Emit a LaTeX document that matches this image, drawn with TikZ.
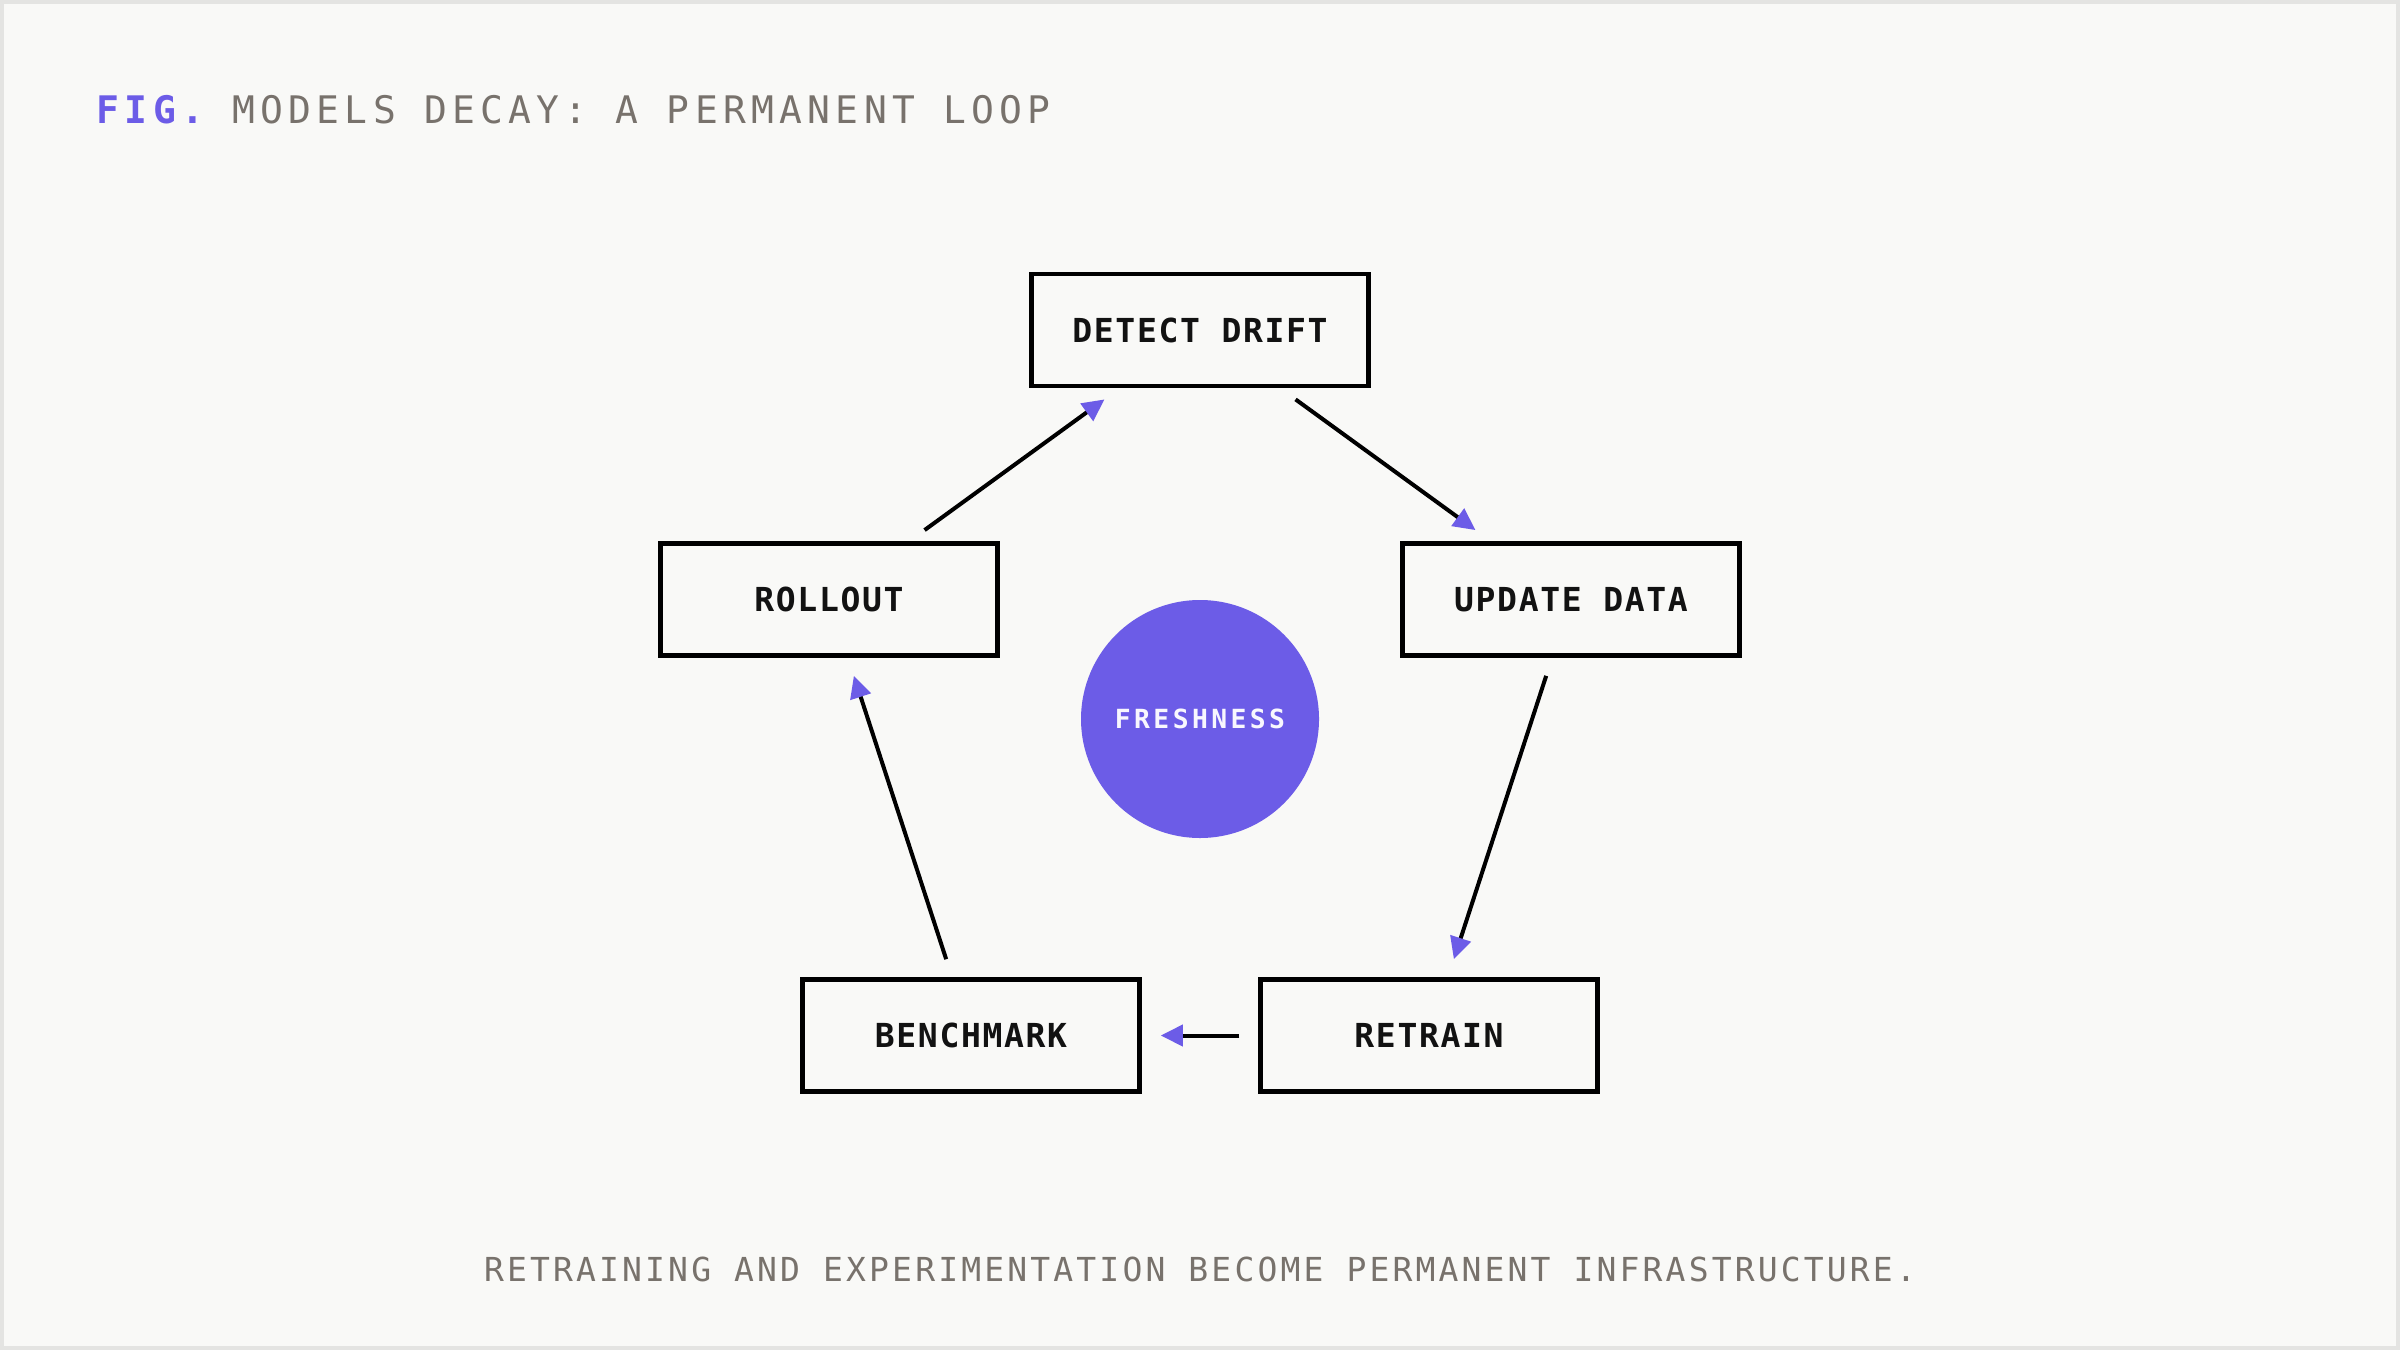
\documentclass[tikz,border=0pt]{standalone}
\usepackage{fontspec}
\usepackage{xcolor}
\usepackage{tikz}
\usetikzlibrary{arrows.meta}
\newfontfamily\titlemono[LetterSpace=14]{DejaVu Sans Mono}
\newfontfamily\stepmono[LetterSpace=5]{DejaVu Sans Mono}
\newfontfamily\notemono[LetterSpace=9.5]{DejaVu Sans Mono}
\newfontfamily\hubmono[LetterSpace=13]{DejaVu Sans Mono}
\definecolor{loopviolet}{RGB}{108,92,231}
\definecolor{loopgray}{RGB}{120,114,108}
\definecolor{loopbg}{RGB}{249,249,247}
\definecolor{loopframe}{RGB}{228,228,226}

\begin{document}
\begin{tikzpicture}[
  stage/.style={draw=black, line width=0.045cm, fill=loopbg, minimum width=3.37cm,
                minimum height=1.12cm, inner sep=0pt,
                font=\stepmono\fontsize{9.4}{11}\selectfont\bfseries, text=black!93},
  hub/.style={circle, fill=loopviolet, minimum size=2.38cm, inner sep=0pt,
              font=\hubmono\fontsize{7.5}{9}\selectfont\bfseries, text=white!95!loopviolet},
  tr/.style={line width=0.04cm, black, shorten <=0.19cm, shorten >=0.19cm,
             -{Triangle[color=loopviolet, length=0.22cm, width=0.21cm]}}
]
% page
\fill[loopbg] (0,0) rectangle (24,13.5);
\draw[loopframe, line width=0.04cm] (0.02,0.02) rectangle (23.98,13.48);
\useasboundingbox (0,0) rectangle (24,13.5);

% title and note
\node[anchor=base west, inner sep=0pt, font=\titlemono\fontsize{10.8}{13}\selectfont]
  (title) at (0.96,12.26) {\textcolor{loopviolet}{\bfseries FIG.} \textcolor{loopgray}{MODELS DECAY: A PERMANENT LOOP}};
\node[anchor=base, inner sep=0pt, text=loopgray, font=\notemono\fontsize{9.4}{11}\selectfont]
  (note) at (12,0.69) {RETRAINING AND EXPERIMENTATION BECOME PERMANENT INFRASTRUCTURE.};

% loop stages
\node[stage] (drift)   at (12,10.2)     {DETECT DRIFT};
\node[stage] (update)  at (15.71,7.505) {UPDATE DATA};
\node[stage] (retrain) at (14.29,3.145) {RETRAIN};
\node[stage] (bench)   at (9.71,3.145)  {BENCHMARK};
\node[stage] (rollout) at (8.29,7.505)  {ROLLOUT};
\node[hub]   (fresh)   at (12,6.31)     {FRESHNESS};

\foreach \src/\dst in {drift/update, update/retrain, retrain/bench,
                       bench/rollout, rollout/drift}
  \draw[tr] (\src) -- (\dst);
\end{tikzpicture}
\end{document}
